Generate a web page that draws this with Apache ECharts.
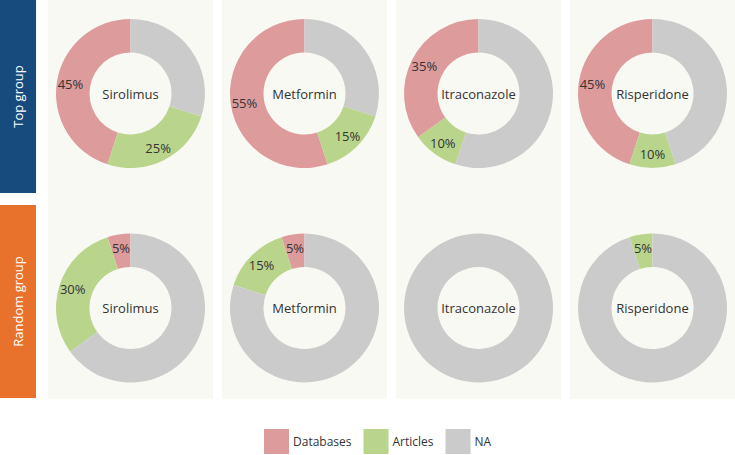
<!DOCTYPE html>
<html>
<head>
<meta charset="utf-8">
<script src="https://cdn.jsdelivr.net/npm/echarts@6/dist/echarts.min.js"></script>
<style>
html,body{margin:0;padding:0;background:#fff;}
#main{width:735px;height:455px;}
</style>
</head>
<body>
<div id="main"></div>
<script>
const drugs = ['Sirolimus', 'Metformin', 'Itraconazole', 'Risperidone'];
const groups = ['Top group', 'Random group'];
const categories = ['Databases', 'Articles', 'NA'];
const topDatabases = [45, 55, 35, 45];
const topArticles = [25, 15, 10, 10];
const topNA = [30, 30, 55, 45];
const randomDatabases = [5, 5, 0, 0];
const randomArticles = [30, 15, 0, 5];
const randomNA = [65, 80, 100, 95];

const colors = ['#dd9b9b', '#b9d58c', '#cbcbcb'];
const groupColors = ['#174b7d', '#e8712b'];
const FONT = 'Open Sans';

const colX = [130.5, 304.5, 478.5, 652.5];
const rowY = [93.5, 308];
const panelX = [48, 222, 396, 570];
const panelW = 165;

const groupData = [
  [topDatabases, topArticles, topNA],
  [randomDatabases, randomArticles, randomNA]
];

const series = [];
const graphics = [];

panelX.forEach(function (x) {
  graphics.push({type: 'rect', z: 0, silent: true,
    shape: {x: x, y: 0, width: panelW, height: 399},
    style: {fill: '#f9f9f4'}});
});
groups.forEach(function (g, gi) {
  const y0 = gi === 0 ? 0 : 205;
  graphics.push({type: 'rect', z: 1, silent: true,
    shape: {x: 0, y: y0, width: 36, height: 193},
    style: {fill: groupColors[gi]}});
  graphics.push({type: 'text', z: 2, silent: true,
    x: 18, y: y0 + 96.5, rotation: Math.PI / 2,
    style: {text: g, fill: '#ffffff', font: '13px "' + FONT + '"', align: 'center', verticalAlign: 'middle'}});
});

groupData.forEach(function (arrs, gi) {
  drugs.forEach(function (d, di) {
    series.push({
      type: 'pie',
      name: groups[gi] + ' ' + d,
      center: [colX[di], rowY[gi]],
      radius: [41, 74.5],
      startAngle: 90,
      clockwise: false,
      silent: true,
      animation: false,
      avoidLabelOverlap: false,
      label: {
        position: 'inside',
        color: '#333333',
        fontSize: 13,
        fontFamily: FONT,
        formatter: function (p) { return p.value + '%'; }
      },
      labelLine: {show: false},
      itemStyle: {borderWidth: 0},
      data: categories.map(function (c, ci) {
        const v = arrs[ci][di];
        return {
          name: c,
          value: v,
          itemStyle: {color: colors[ci]},
          label: {show: c !== 'NA' && v > 0}
        };
      })
    });
    graphics.push({type: 'text', z: 5, silent: true,
      x: colX[di], y: rowY[gi],
      style: {text: d, fill: '#333333', font: '13px "' + FONT + '"', align: 'center', verticalAlign: 'middle'}});
  });
});

const chart = echarts.init(document.getElementById('main'), null, {renderer: 'svg'});
chart.setOption({
  backgroundColor: '#ffffff',
  animation: false,
  graphic: graphics,
  legend: {
    data: categories,
    left: 259,
    top: 424,
    itemWidth: 25,
    itemHeight: 25,
    itemGap: 12,
    icon: 'rect',
    selectedMode: false,
    textStyle: {fontSize: 12, fontFamily: FONT, color: '#333333', padding: [0, 0, 0, -1]}
  },
  series: series
});
</script>
</body>
</html>
